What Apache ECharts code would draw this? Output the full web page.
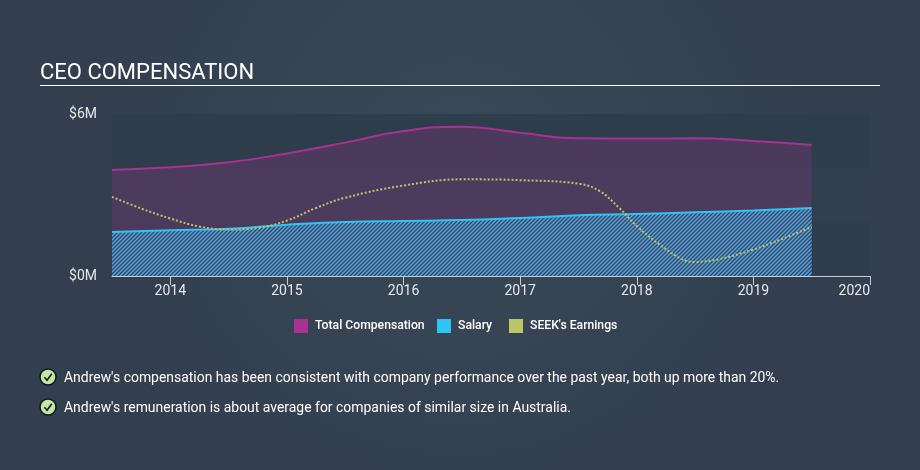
<!DOCTYPE html>
<html><head><meta charset="utf-8">
<style>html,body{margin:0;padding:0;background:#354453}#c{width:920px;height:470px}</style>
<script src="https://cdn.jsdelivr.net/npm/echarts@6/dist/echarts.min.js"></script></head>
<body><div id="c"></div>
<script>
const titleText = "CEO COMPENSATION";
const notes = ["Andrew's compensation has been consistent with company performance over the past year, both up more than 20%.",
               "Andrew's remuneration is about average for companies of similar size in Australia."];
const yearTicks = [2014,2015,2016,2017,2018,2019,2020];
const totalYears = [2013.5,2014,2014.5,2015,2015.5,2016,2016.5,2017,2017.5,2018,2018.5,2019,2019.5];
const totalVals  = [3.93,4.03,4.21,4.54,4.94,5.37,5.53,5.31,5.10,5.09,5.10,5.00,4.85];
const salaryYears = [2013.5,2014,2014.5,2015,2015.5,2016,2016.5,2017,2017.5,2018,2018.5,2019,2019.5];
const salaryVals  = [1.63,1.69,1.75,1.90,2.00,2.04,2.07,2.15,2.25,2.30,2.36,2.43,2.52];
const earnYears = [2013.5,2013.75,2014,2014.25,2014.5,2014.75,2015,2015.25,2015.5,2016,2016.5,2017,2017.5,2017.68,2017.85,2018,2018.2,2018.4,2018.5,2018.7,2019,2019.25,2019.5];
const earnVals  = [2.93,2.5,2.13,1.83,1.72,1.78,2.05,2.52,2.90,3.35,3.58,3.55,3.42,3.15,2.52,1.85,1.15,0.6,0.52,0.62,0.98,1.38,1.82];
const zip = (a,b)=>a.map((x,i)=>[x,b[i]]);

const tile = document.createElement('canvas'); tile.width = 4; tile.height = 4;
const g = tile.getContext('2d');
g.strokeStyle = '#40b0e8'; g.lineWidth = 1.45;
[[-4,4,4,-4],[0,4,4,0],[0,8,8,0]].forEach(l=>{g.beginPath();g.moveTo(l[0],l[1]);g.lineTo(l[2],l[3]);g.stroke();});

const font = 'Roboto, sans-serif';
const check = (y)=>({type:'group',x:48,y:y,children:[
  {type:'circle',shape:{cx:0,cy:0,r:8},style:{fill:'#c3e8a5',stroke:'#10171c',lineWidth:1.5}},
  {type:'polyline',shape:{points:[[-3.6,0.3],[-1,3.2],[3.8,-3.2]]},style:{fill:'none',stroke:'#10171c',lineWidth:1.6}}
]});
const leg = (name,left)=>({top:319,left:left,itemWidth:14,itemHeight:14,icon:'rect',padding:0,
    textStyle:{color:'#fff',fontSize:12.2,fontWeight:500,fontFamily:font,padding:[0,0,0,2]},
    data:[{name:name}]});
const chart = echarts.init(document.getElementById('c'),null,{renderer:'canvas'});
chart.setOption({
  backgroundColor:{type:'radial',x:0.5,y:0.35,r:0.75,colorStops:[{offset:0,color:'#394958'},{offset:1,color:'#333f4e'}]},
  animation:false,
  textStyle:{fontFamily:font},
  title:{text:titleText,left:40,top:62,padding:0,textStyle:{color:'#fff',fontSize:22,fontWeight:400,fontFamily:font}},
  grid:{left:112,right:50,top:114,bottom:194},
  legend:[leg('Total Compensation',294),leg('Salary',437),leg("SEEK's Earnings",509)],
  xAxis:{type:'value',min:2013.5,max:2020,
    axisLine:{show:true,lineStyle:{color:'#c3cdd9',width:1}},
    axisTick:{show:true,customValues:yearTicks,length:9,lineStyle:{color:'#c3cdd9'}},
    axisLabel:{customValues:yearTicks,color:'#e6e9ec',fontSize:14,margin:8,fontFamily:font,alignMaxLabel:'right',formatter:v=>String(v)},
    splitLine:{show:false}},
  yAxis:{type:'value',min:0,max:6,interval:2,
    axisLine:{show:false},axisTick:{show:false},splitLine:{show:false},
    axisLabel:{color:'#e6e9ec',fontSize:14,margin:15,fontFamily:font,formatter:v=>(v===0||v===6)?('$'+v+'M'):''},
    splitArea:{show:true,areaStyle:{color:['#2e3d4b','#313f4e','#2e3d4b']}}},
  series:[
    {name:'Total Compensation',type:'line',smooth:0.5,symbol:'none',data:zip(totalYears,totalVals),
      itemStyle:{color:'#a8328f'},lineStyle:{color:'#a8328f',width:2},areaStyle:{color:'rgba(168,50,143,0.24)',opacity:1},z:2},
    {name:'Salary',type:'line',smooth:0.5,symbol:'none',data:zip(salaryYears,salaryVals),
      itemStyle:{color:'#2ec4f4'},lineStyle:{color:'#2ec4f4',width:2},areaStyle:{color:{image:tile,repeat:'repeat'},opacity:1},z:3},
    {name:"SEEK's Earnings",type:'line',smooth:0.4,symbol:'none',data:zip(earnYears,earnVals),
      itemStyle:{color:'#bcc666'},lineStyle:{color:'#bcc666',width:2,type:[2,2]},z:4}
  ],
  graphic:[
    {type:'line',shape:{x1:40,y1:85.5,x2:880,y2:85.5},style:{stroke:'#fff',lineWidth:1}},
    check(377),check(407),
    {type:'text',x:64,y:379,style:{text:notes[0],fill:'#fff',font:'13.95px '+font,textVerticalAlign:'middle'}},
    {type:'text',x:64,y:409,style:{text:notes[1],fill:'#fff',font:'13.95px '+font,textVerticalAlign:'middle'}}
  ]
});
</script></body></html>
